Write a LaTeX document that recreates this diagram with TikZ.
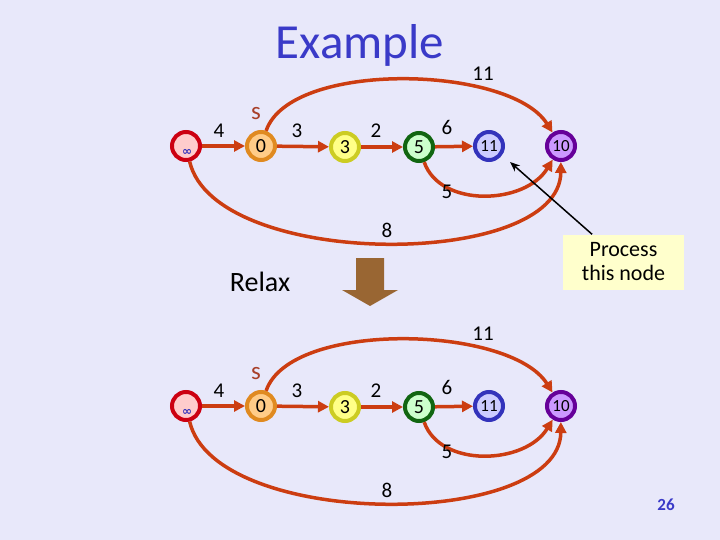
\documentclass[tikz,border=0pt]{standalone}
\usepackage{fontspec}
\setmainfont{Carlito}
\newfontfamily\symfnt{DejaVu Sans}
\usetikzlibrary{arrows.meta}
\definecolor{bg}{HTML}{E8E8FA}
\definecolor{edgec}{HTML}{CC3D11}
\definecolor{titlec}{HTML}{3A3AC8}
\definecolor{infF}{HTML}{FFCCCC}\definecolor{infR}{HTML}{CC0011}
\definecolor{zeroF}{HTML}{FFCC88}\definecolor{zeroR}{HTML}{E08A20}
\definecolor{threeF}{HTML}{FFFF88}\definecolor{threeR}{HTML}{CCCC22}
\definecolor{fiveF}{HTML}{CCFFCC}\definecolor{fiveR}{HTML}{116611}
\definecolor{elevF}{HTML}{CCCCFF}\definecolor{elevR}{HTML}{3333BB}
\definecolor{tenF}{HTML}{CC99FF}\definecolor{tenR}{HTML}{660099}
\definecolor{sc}{HTML}{A8402A}
\definecolor{blockc}{HTML}{996633}
\definecolor{boxc}{HTML}{FFFFCC}
\tikzset{
  vtx/.style={circle, minimum size=28pt, inner sep=0pt, line width=4pt, font=\fontsize{20}{20}\selectfont},
  vtxs/.style={vtx, font=\fontsize{17}{17}\selectfont},
  wedge/.style={draw=edgec, line width=3.5pt, -{Triangle[length=11pt,width=11pt]}},
  lbl/.style={font=\fontsize{21}{21}\selectfont, inner sep=0pt},
  infsym/.style={text=elevR, font=\symfnt\bfseries\fontsize{12}{12}\selectfont, inner sep=0pt},
}
\begin{document}
\begin{tikzpicture}[x=1pt,y=-1pt]
\fill[bg] (0,0) rectangle (720,540);
\useasboundingbox (0,0) rectangle (720,540);
\node[text=titlec, font=\fontsize{49}{49}\selectfont] (title) at (360,45) {Example};
\foreach \r/\dy in {a/0,b/260}{
  \node[vtx, fill=infF, draw=infR] (ninf\r) at (186,{146+\dy}) {};
  \node[infsym] (isym\r) at (187,{152+\dy}) {∞};
  \node[vtx, fill=zeroF, draw=zeroR] (nzero\r) at (261,{146+\dy}) {0};
  \node[vtx, fill=threeF, draw=threeR] (nthree\r) at (345,{147+\dy}) {3};
  \node[vtx, fill=fiveF, draw=fiveR] (nfive\r) at (419,{147+\dy}) {5};
  \node[vtxs, fill=elevF, draw=elevR] (nelev\r) at (489,{146+\dy}) {11};
  \node[vtxs, fill=tenF, draw=tenR] (nten\r) at (561,{146+\dy}) {10};
  \draw[wedge] (ninf\r) -- (nzero\r);
  \draw[wedge] (nzero\r) -- (nthree\r);
  \draw[wedge] (nthree\r) -- (nfive\r);
  \draw[wedge] (nfive\r) -- (nelev\r);
  \draw[wedge] (nzero\r) .. controls (290,{60+\dy}) and (510,{65+\dy}) .. (nten\r);
  \draw[wedge] (nfive\r) .. controls (440,{208+\dy}) and (525,{205+\dy}) .. (nten\r);
  \draw[wedge] (ninf\r) .. controls (215,{270+\dy}) and (560,{270+\dy}) .. (nten\r);
  \node[text=sc, font=\fontsize{25}{25}\selectfont, inner sep=0pt] (s\r) at (256,{114+\dy}) {s};
  \node[lbl] (l4\r) at (219,{131+\dy}) {4};
  \node[lbl] (l3\r) at (297,{131+\dy}) {3};
  \node[lbl] (l2\r) at (376,{131+\dy}) {2};
  \node[lbl] (l6\r) at (447,{127+\dy}) {6};
  \node[lbl] (l11\r) at (483,{74+\dy}) {11};
  \node[lbl] (l5\r) at (447,{192+\dy}) {5};
  \node[lbl] (l8\r) at (387,{230+\dy}) {8};
}
\node[fill=boxc, minimum width=121pt, minimum height=55pt, align=center, inner sep=0pt,
      font=\fontsize{22}{24}\selectfont] (box) at (623.5,262) {Process\\this node};
\coordinate (ptr) at (510,162);
\draw[line width=1.5pt, -{Stealth[length=10pt,width=8pt]}] (box) -- (ptr);
\node[font=\fontsize{28}{28}\selectfont] (relax) at (260,282) {Relax};
\fill[blockc] (356,258) -- (384,258) -- (384,290) -- (398,290) -- (370,306) -- (342,290) -- (356,290) -- cycle;
\node[text=titlec, font=\bfseries\fontsize{17}{17}\selectfont] (page) at (666,505) {26};
\end{tikzpicture}
\end{document}
